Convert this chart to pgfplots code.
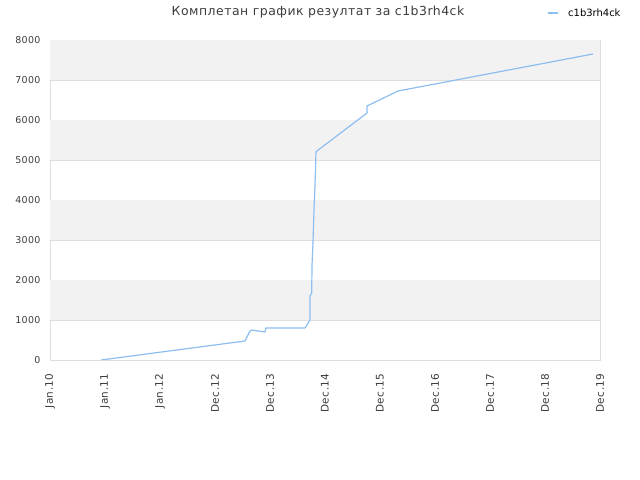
\documentclass[border=0pt]{standalone}
\usepackage{pgfplots}
\pgfplotsset{compat=1.18}
\usepackage{fontspec}
\setmainfont{DejaVu Sans}
\newfontfamily\spaced[LetterSpace=4]{DejaVu Sans}
\definecolor{serie}{RGB}{140,190,240}
\definecolor{band}{RGB}{242,242,242}
\definecolor{gridc}{RGB}{222,222,222}
\definecolor{txt}{RGB}{60,60,60}

\begin{document}
\begin{tikzpicture}[x=1bp,y=1bp]
  \path (0,0) rectangle (640,480);
  \node[text=txt,font=\spaced\fontsize{12.5}{14}\selectfont] at (318,467.5) {Комплетан график резултат за c1b3rh4ck};
  \draw[serie,line width=1.2pt] (548,467) -- (558,467);
  \node[anchor=west,text=black,inner sep=0pt,font=\fontsize{10}{12}\selectfont] at (568,467.5) {c1b3rh4ck};
  \begin{axis}[
    at={(50bp,120bp)}, anchor=south west,
    scale only axis, width=550bp, height=320bp,
    xmin=0, xmax=10, ymin=0, ymax=8000,
    xtick={0,...,10},
    xticklabels={Jan.10,Jan.11,Jan.12,Dec.12,Dec.13,Dec.14,Dec.15,Dec.16,Dec.17,Dec.18,Dec.19},
    x tick label style={rotate=90, anchor=east, font=\spaced\fontsize{10.5}{12}\selectfont},
    xticklabel shift=10bp,
    yticklabel shift=6bp,
    ytick={0,1000,...,8000},
    scaled y ticks=false,
    yticklabel style={/pgf/number format/set thousands separator={}, font=\spaced\fontsize{9.5}{11}\selectfont},
    /pgf/number format/assume math mode=true,
    tick label style={text=txt},
    major tick length=0pt,
    ymajorgrids,
    grid style={gridc, line width=0.6pt},
    axis line style={gridc, line width=0.8pt},
    axis on top=false,
  ]
    \fill[band] (axis cs:0,7000) rectangle (axis cs:10,8000);
    \fill[band] (axis cs:0,5000) rectangle (axis cs:10,6000);
    \fill[band] (axis cs:0,3000) rectangle (axis cs:10,4000);
    \fill[band] (axis cs:0,1000) rectangle (axis cs:10,2000);
    \addplot[serie, line width=1.2pt, mark=none] coordinates {
      (0.927,0) (3.545,475) (3.636,725) (3.673,750) (3.782,725) (3.909,700)
      (3.927,800) (4.636,800) (4.727,1000) (4.727,1600) (4.758,1675)
      (4.764,2375) (4.782,2950) (4.800,3775) (4.818,4330) (4.836,5208)
      (5.764,6175) (5.764,6350) (6.327,6725) (9.873,7650)
    };
  \end{axis}
\end{tikzpicture}
\end{document}
